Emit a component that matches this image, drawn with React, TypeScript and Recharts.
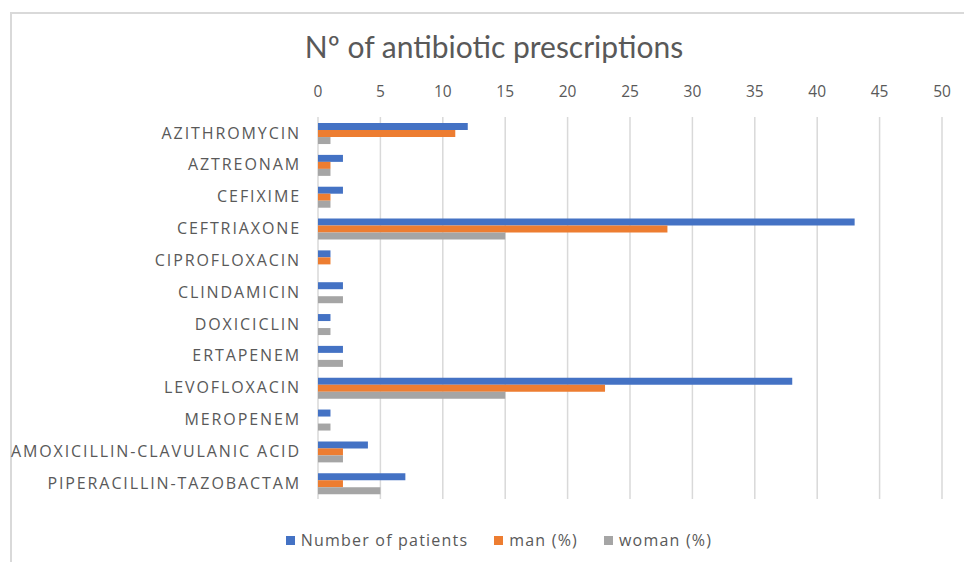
import React from 'react';
import { Bar, BarChart, CartesianGrid, XAxis, YAxis } from 'recharts';

const drugs = [
  'AZITHROMYCIN',
  'AZTREONAM',
  'CEFIXIME',
  'CEFTRIAXONE',
  'CIPROFLOXACIN',
  'CLINDAMICIN',
  'DOXICICLIN',
  'ERTAPENEM',
  'LEVOFLOXACIN',
  'MEROPENEM',
  'AMOXICILLIN-CLAVULANIC ACID',
  'PIPERACILLIN-TAZOBACTAM',
];
const patients = [12, 2, 2, 43, 1, 2, 1, 2, 38, 1, 4, 7];
const man = [11, 1, 1, 28, 1, 0, 0, 0, 23, 0, 2, 2];
const woman = [1, 1, 1, 15, 0, 2, 1, 2, 15, 1, 2, 5];
const xTicks = [0, 5, 10, 15, 20, 25, 30, 35, 40, 45, 50];

const series = [
  { key: 'patients', name: 'Number of patients', color: '#4472C4' },
  { key: 'man', name: 'man (%)', color: '#ED7D31' },
  { key: 'woman', name: 'woman (%)', color: '#A5A5A5' },
];

const data = drugs.map((name, i) => ({
  name,
  patients: patients[i],
  man: man[i],
  woman: woman[i],
}));

const font = '"Open Sans", sans-serif';
const titleFont = 'Lato, sans-serif';
const textColor = '#595959';

const App = () => {
  return (
    <div
      style={{
        position: 'absolute',
        left: 0,
        top: 0,
        width: 964,
        height: 562,
        background: '#fff',
        overflow: 'hidden',
        fontFamily: font,
      }}
    >
      <div
        style={{
          position: 'absolute',
          left: 10,
          top: 12,
          width: 980,
          height: 600,
          border: '2px solid #d9d9d9',
        }}
      />
      <div
        style={{
          position: 'absolute',
          left: 0,
          width: 988,
          top: 28,
          textAlign: 'center',
          fontSize: 30,
          fontFamily: titleFont,
          color: textColor,
        }}
      >
        Nº of antibiotic prescriptions
      </div>
      <div style={{ position: 'absolute', left: 0, top: 0 }}>
        <BarChart
          width={964}
          height={562}
          data={data}
          layout="vertical"
          margin={{ top: 87, right: 22, bottom: 63, left: 0 }}
          barCategoryGap="19%"
          barGap={0}
        >
          <CartesianGrid horizontal={false} stroke="#d9d9d9" strokeWidth={1.5} />
          <XAxis
            type="number"
            orientation="top"
            domain={[0, 50]}
            ticks={xTicks}
            axisLine={false}
            tickLine={false}
            tickMargin={14}
            height={30}
            tick={{ fill: textColor, fontSize: 15.5, fontFamily: font }}
          />
          <YAxis
            type="category"
            dataKey="name"
            width={318}
            axisLine={false}
            tickLine={false}
            tickMargin={11}
            interval={0}
            tick={{
              fill: textColor,
              fontSize: 16,
              fontFamily: font,
              letterSpacing: 1.9,
            }}
          />
          {series.map((s) => (
            <Bar
              key={s.key}
              dataKey={s.key}
              name={s.name}
              fill={s.color}
              isAnimationActive={false}
            />
          ))}
        </BarChart>
      </div>
      <div
        style={{
          position: 'absolute',
          top: 529,
          left: 0,
          width: 998,
          display: 'flex',
          justifyContent: 'center',
          gap: 26,
          fontSize: 16,
          letterSpacing: 1.2,
          color: textColor,
        }}
      >
        {series.map((s) => (
          <div key={s.key} style={{ display: 'flex', alignItems: 'center' }}>
            <span
              style={{
                width: 9,
                height: 9,
                background: s.color,
                marginRight: 6,
                display: 'inline-block',
              }}
            />
            {s.name}
          </div>
        ))}
      </div>
    </div>
  );
};

export default App;
